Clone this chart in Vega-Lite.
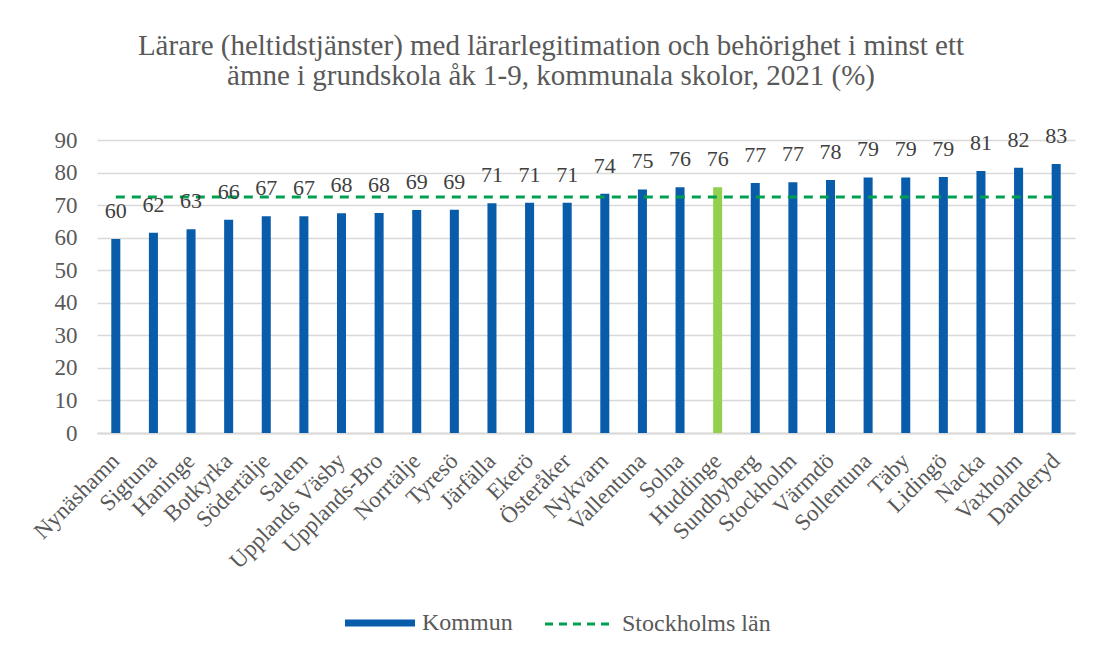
{
  "$schema": "https://vega.github.io/schema/vega-lite/v6.json",
  "width": 978,
  "height": 293,
  "autosize": "none",
  "padding": {"left": 97, "top": 140, "right": 19, "bottom": 215},
  "background": "white",
  "config": {
    "font": "Liberation Serif",
    "view": {"stroke": null},
    "axis": {"labelFont": "Liberation Serif", "labelColor": "#595959", "gridColor": "#d9d9d9", "gridWidth": 1.5, "domainColor": "#d9d9d9", "domainWidth": 2}
  },
  "title": {
    "text": ["Lärare (heltidstjänster) med lärarlegitimation och behörighet i minst ett", "ämne i grundskola åk 1-9, kommunala skolor, 2021 (%)"],
    "font": "Liberation Serif",
    "fontSize": 29,
    "fontWeight": "normal",
    "color": "#595959",
    "anchor": "middle",
    "frame": "group",
    "dx": -35,
    "lineHeight": 30,
    "offset": 34
  },
  "data": {
    "values": [
      {"kommun": "Nynäshamn", "andel": 59.6, "lan": 72.5},
      {"kommun": "Sigtuna", "andel": 61.5, "lan": 72.5},
      {"kommun": "Haninge", "andel": 62.6, "lan": 72.5},
      {"kommun": "Botkyrka", "andel": 65.5, "lan": 72.5},
      {"kommun": "Södertälje", "andel": 66.6, "lan": 72.5},
      {"kommun": "Salem", "andel": 66.6, "lan": 72.5},
      {"kommun": "Upplands Väsby", "andel": 67.5, "lan": 72.5},
      {"kommun": "Upplands-Bro", "andel": 67.6, "lan": 72.5},
      {"kommun": "Norrtälje", "andel": 68.5, "lan": 72.5},
      {"kommun": "Tyresö", "andel": 68.6, "lan": 72.5},
      {"kommun": "Järfälla", "andel": 70.6, "lan": 72.5},
      {"kommun": "Ekerö", "andel": 70.7, "lan": 72.5},
      {"kommun": "Österåker", "andel": 70.7, "lan": 72.5},
      {"kommun": "Nykvarn", "andel": 73.5, "lan": 72.5},
      {"kommun": "Vallentuna", "andel": 74.8, "lan": 72.5},
      {"kommun": "Solna", "andel": 75.5, "lan": 72.5},
      {"kommun": "Huddinge", "andel": 75.5, "lan": 72.5},
      {"kommun": "Sundbyberg", "andel": 76.8, "lan": 72.5},
      {"kommun": "Stockholm", "andel": 77.0, "lan": 72.5},
      {"kommun": "Värmdö", "andel": 77.7, "lan": 72.5},
      {"kommun": "Sollentuna", "andel": 78.5, "lan": 72.5},
      {"kommun": "Täby", "andel": 78.5, "lan": 72.5},
      {"kommun": "Lidingö", "andel": 78.6, "lan": 72.5},
      {"kommun": "Nacka", "andel": 80.5, "lan": 72.5},
      {"kommun": "Vaxholm", "andel": 81.5, "lan": 72.5},
      {"kommun": "Danderyd", "andel": 82.6, "lan": 72.5}
    ]
  },
  "encoding": {
    "x": {
      "field": "kommun",
      "type": "nominal",
      "sort": null,
      "scale": {"paddingInner": 0.76, "paddingOuter": 0.38},
      "axis": {"title": null, "labelAngle": -45, "labelAlign": "right", "labelBaseline": "middle", "labelPadding": 24, "labelFontSize": 23, "ticks": false, "grid": false, "labelColor": "#595959"}
    }
  },
  "layer": [
    {
      "mark": {"type": "bar"},
      "encoding": {
        "y": {
          "field": "andel",
          "type": "quantitative",
          "scale": {"domain": [0, 90], "nice": false},
          "axis": {"title": null, "values": [0, 10, 20, 30, 40, 50, 60, 70, 80, 90], "labelOverlap": false, "domain": false, "ticks": false, "labelPadding": 20, "labelFontSize": 23}
        },
        "color": {
          "condition": {"test": "datum.kommun === 'Huddinge'", "value": "#92D050"},
          "datum": "Kommun",
          "type": "nominal",
          "scale": {"domain": ["Kommun", "Stockholms län"], "range": ["#085CA9", "#00A050"]},
          "legend": {
            "title": null,
            "orient": "none",
            "legendX": 271,
            "legendY": 471,
            "direction": "horizontal",
            "symbolType": "stroke",
            "symbolSize": 4900,
            "labelFontSize": 24,
            "labelFont": "Liberation Serif",
            "labelColor": "#595959",
            "labelOffset": 30,
            "columnPadding": 26,
            "encode": {
              "symbols": {
                "update": {
                  "stroke": {"signal": "datum.value === 'Kommun' ? '#085CA9' : '#00A050'"},
                  "strokeWidth": {"signal": "datum.value === 'Kommun' ? 7 : 3"},
                  "strokeDash": {"signal": "datum.value === 'Kommun' ? [1, 0] : [8, 6]"},
                  "fill": {"value": "transparent"}
                }
              }
            }
          }
        }
      }
    },
    {
      "mark": {"type": "line", "strokeWidth": 3, "strokeDash": [9, 7]},
      "encoding": {
        "y": {
          "field": "lan",
          "type": "quantitative",
          "axis": {"title": null, "values": [0, 10, 20, 30, 40, 50, 60, 70, 80, 90], "labelOverlap": false, "domain": false, "ticks": false, "labelPadding": 20, "labelFontSize": 23}
        },
        "color": {"datum": "Stockholms län", "type": "nominal"}
      }
    },
    {
      "mark": {"type": "text", "baseline": "alphabetic", "dy": -21, "fontSize": 22, "color": "#404040", "font": "Liberation Serif"},
      "encoding": {
        "y": {
          "field": "andel",
          "type": "quantitative",
          "axis": {"title": null, "values": [0, 10, 20, 30, 40, 50, 60, 70, 80, 90], "labelOverlap": false, "domain": false, "ticks": false, "labelPadding": 20, "labelFontSize": 23}
        },
        "text": {"field": "andel", "type": "quantitative", "format": ".0f"}
      }
    }
  ]
}
